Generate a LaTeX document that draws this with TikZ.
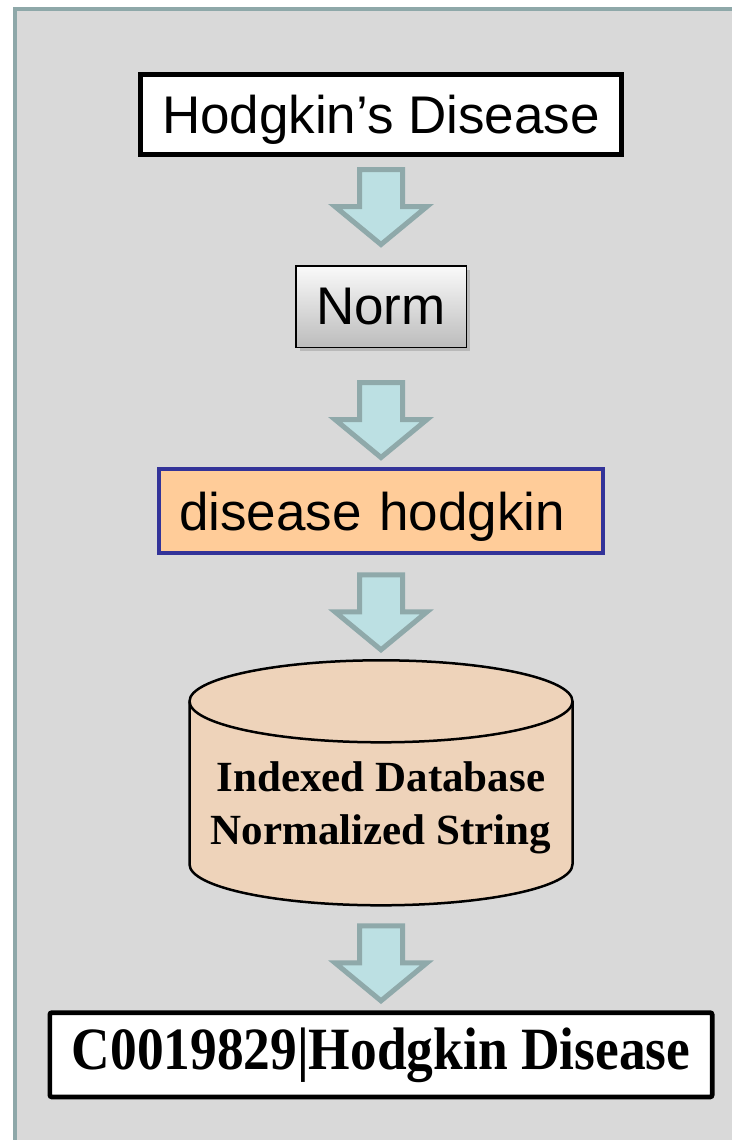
\documentclass[tikz,border=0pt]{standalone}
\usepackage{fontspec}
\usepackage{graphicx}
\usetikzlibrary{positioning,calc,shadows}
\newfontfamily\arialfont{Liberation Sans}
\newfontfamily\timesfont{Liberation Serif}
\definecolor{panelgray}{RGB}{217,217,217}
\definecolor{paneledge}{RGB}{142,168,169}
\definecolor{flowfill}{RGB}{188,224,227}
\definecolor{flowedge}{RGB}{143,169,170}
\definecolor{normtop}{RGB}{250,250,250}
\definecolor{normbot}{RGB}{188,188,188}
\definecolor{tokfill}{RGB}{255,204,153}
\definecolor{tokedge}{RGB}{51,51,153}
\definecolor{dbfill}{RGB}{238,211,186}

\begin{document}
\begin{tikzpicture}[
  x=0.5pt, y=-0.5pt,
  sanslabel/.style={font=\arialfont\fontsize{26.5}{30}\selectfont, text depth=0pt},
  panel/.style={draw=paneledge, line width=2pt, fill=panelgray},
  inbox/.style={draw, line width=2.5pt, fill=white, minimum width=240.5pt, minimum height=40pt, sanslabel},
  normbox/.style={draw, line width=0.75pt, top color=normtop, bottom color=normbot, minimum width=85.25pt, minimum height=40.75pt, drop shadow={shadow xshift=2pt, shadow yshift=-2pt, opacity=0.35}, sanslabel},
  tokbox/.style={draw=tokedge, line width=2.15pt, fill=tokfill, text width=202pt, inner xsep=10pt, align=left, minimum height=42pt, sanslabel},
  dbnode/.style={inner sep=0pt, outer sep=0pt, minimum width=191.5pt, minimum height=122.5pt},
  dbline/.style={draw=black, line width=1.25pt, fill=dbfill},
  dbtext/.style={font=\timesfont\bfseries\fontsize{21.5}{26.5}\selectfont, align=center},
  botbox/.style={draw, line width=2.35pt, fill=white, rounded corners=1pt, minimum width=331.15pt, minimum height=42.15pt, font=\timesfont\bfseries\fontsize{30}{34}\selectfont},
  flowline/.style={draw=flowedge, fill=flowfill, line width=2.5pt},
  flow/.pic={\filldraw[flowline] (-21.5,0) -- (21.5,0) -- (21.5,37) -- (46,37) -- (0,75) -- (-46,37) -- (-21.5,37) -- cycle;},
  ]
  \useasboundingbox (0,0) rectangle (732,1140);
  \fill[white] (0,0) rectangle (732,1140);
  \clip (0,0) rectangle (732,1140);
  % grey panel
  \draw[panel] (15,9) rectangle (800,1200);
  % pipeline boxes
  \node[inbox] (hd) at (381,114.5) {Hodgkin’s Disease};
  \node[normbox, below=54pt of hd] (norm) {Norm};
  \node[tokbox, below=59.5pt of norm] (tok) {disease hodgkin};
  \node[dbnode, below=52.5pt of tok] (db) {};
  \node[botbox, below=52.5pt of db] (res) {\scalebox{0.89}[1]{C0019829|Hodgkin Disease}};
  % database cylinder
  \filldraw[dbline] ($(db.north west)+(0,41)$) -- ($(db.south west)+(0,-41)$)
    arc[start angle=180, end angle=0, x radius=191.5, y radius=41]
    -- ($(db.north east)+(0,41)$)
    arc[start angle=0, end angle=-180, x radius=191.5, y radius=41] -- cycle;
  \draw[dbline, fill=none] ($(db.north west)+(0,41)$) arc[start angle=180, end angle=0, x radius=191.5, y radius=41];
  \node[dbtext] (dblab) at ($(db.center)+(0,25)$) {Indexed Database\\Normalized String};
  % block arrows
  \pic at ($(hd.south)+(0,12.5)$) {flow};
  \pic at ($(norm.south)+(0,34.5)$) {flow};
  \pic at ($(tok.south)+(0,19.5)$) {flow};
  \pic at ($(db.south)+(0,20.5)$) {flow};
\end{tikzpicture}
\end{document}
